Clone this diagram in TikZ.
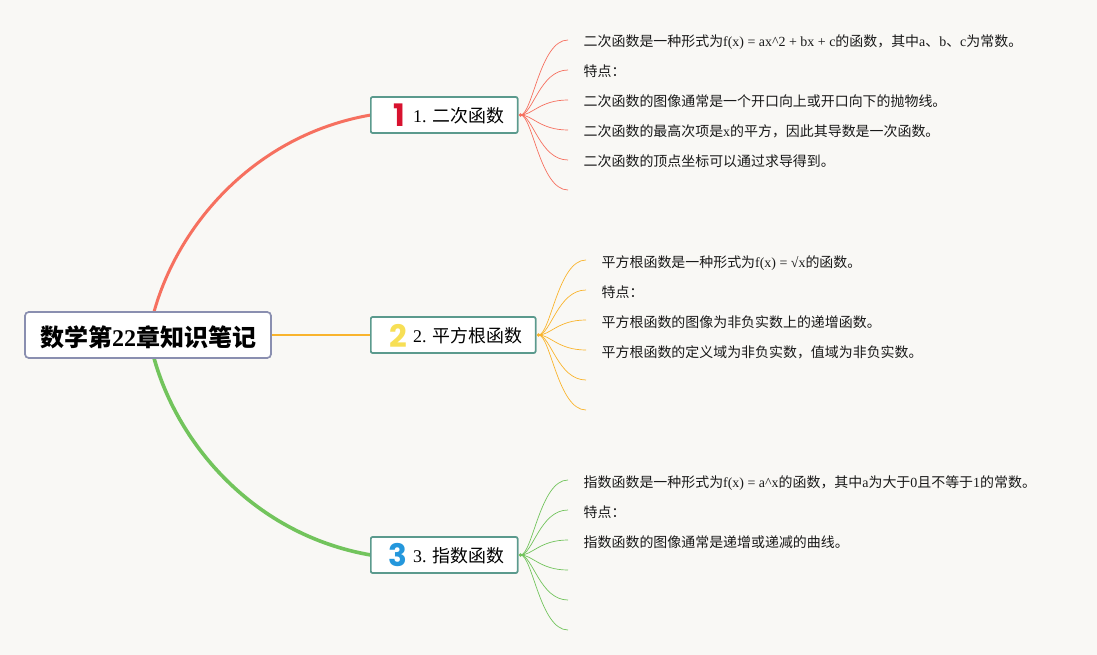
\documentclass[tikz,border=0pt]{standalone}
\usepackage{fontspec}
\setmainfont{Liberation Serif}
\newfontfamily\cjkfont{Noto Sans CJK SC}
\newfontfamily\iconfont{Poppins}
\newcommand{\C}[1]{{\cjkfont #1}}
\definecolor{bgc}{HTML}{F9F8F5}
\definecolor{redl}{HTML}{F6705F}
\definecolor{orgl}{HTML}{F9B42D}
\definecolor{grnl}{HTML}{72C45C}
\definecolor{bord}{HTML}{5B9A8D}
\definecolor{rootb}{HTML}{8A8FB0}
\tikzset{
  rootbox/.style={draw=rootb,fill=white,line width=1.6pt,outer sep=0pt,rounded corners=4pt,minimum width=246pt,minimum height=46pt,inner sep=0pt},
  roottext/.style={inner sep=0pt,font=\fontsize{24}{28}\selectfont},
  branchbox/.style={draw=bord,fill=white,line width=1.6pt,outer sep=0pt,rounded corners=2pt,minimum height=36pt,inner sep=0pt,anchor=west},
  branchtext/.style={anchor=west,inner sep=0pt,font=\fontsize{17.9}{22}\selectfont,text height=14pt,text depth=4pt},
  leaf/.style={anchor=west,inner xsep=15.5pt,inner ysep=0pt,font=\fontsize{13.95}{16}\selectfont,text=black!90,text height=11pt,text depth=3pt},
  icon/.style={font=\iconfont\bfseries\fontsize{31}{31}\selectfont,inner sep=0pt},
  twig/.style={line width=0.7pt},
}
\newcommand{\twig}[3]{\draw[twig,#1] (#2) .. controls ($(#2)+(12,0)$) and ($(#3)+(-28,0)$) .. (#3);}
\usetikzlibrary{calc}
\begin{document}
\begin{tikzpicture}[x=1pt,y=-1pt]
\useasboundingbox (0,0) rectangle (1097,655);
\fill[bgc] (0,0) rectangle (1097,655);
\coordinate (r0) at (148,335);
\node[rootbox] (root) at (r0) {};
\node[branchbox,minimum width=146.8pt] (b1) at (370.8,115) {};
\node[branchbox,minimum width=164.8pt] (b2) at (370.8,335) {};
\node[branchbox,minimum width=146.8pt] (b3) at (370.8,555) {};
\draw[redl,line width=3pt] ([xshift=6pt]root.north) .. controls +(24,-87) and +(-116,20) .. (b1.west);
\draw[orgl,line width=2pt] (root.east) -- (b2.west);
\draw[grnl,line width=3.6pt] ([xshift=6pt]root.south) .. controls +(24,87) and +(-116,-20) .. (b3.west);
% boxes above connector ends
\node[rootbox] at (r0) {};
\node[branchbox,minimum width=146.8pt] at (b1.west) {};
\node[branchbox,minimum width=164.8pt] at (b2.west) {};
\node[branchbox,minimum width=146.8pt] at (b3.west) {};
\node[roottext] (rt) at (148,337) {\bfseries\C{数学第}22\C{章知识笔记}};
\node[icon,text={rgb,255:red,216;green,18;blue,47}] (i1) at (399,115) {1};
\node[icon,text={rgb,255:red,247;green,223;blue,85}] (i2) at (398,336) {2};
\node[icon,text={rgb,255:red,36;green,151;blue,220}] (i3) at (398,555) {3};
\node[branchtext] (t1) at (413,118) {1. \C{二次函数}};
\node[branchtext] (t2) at (413,337.5) {2. \C{平方根函数}};
\node[branchtext] (t3) at (413,557.5) {3. \C{指数函数}};
% hubs
\coordinate (h1) at (520.5,115);
\coordinate (h2) at (538.5,335);
\coordinate (h3) at (520.5,555);
\fill[redl] (h1) circle (1.8pt);
\fill[orgl] (h2) circle (1.8pt);
\fill[grnl] (h3) circle (1.8pt);
% leaf texts
\node[leaf] (a1) at (568,43) {\C{二次函数是一种形式为}f(x) = ax\textasciicircum 2 + bx + c\C{的函数，其中}a\C{、}b\C{、}c\C{为常数。}};
\node[leaf] (a2) at (568,73) {\C{特点：}};
\node[leaf] (a3) at (568,103) {\C{二次函数的图像通常是一个开口向上或开口向下的抛物线。}};
\node[leaf] (a4) at (568,133) {\C{二次函数的最高次项是}x\C{的平方，因此其导数是一次函数。}};
\node[leaf] (a5) at (568,163) {\C{二次函数的顶点坐标可以通过求导得到。}};
\node[leaf] (c1) at (586,263) {\C{平方根函数是一种形式为}f(x) = √x\C{的函数。}};
\node[leaf] (c2) at (586,293) {\C{特点：}};
\node[leaf] (c3) at (586,323) {\C{平方根函数的图像为非负实数上的递增函数。}};
\node[leaf] (c4) at (586,353) {\C{平方根函数的定义域为非负实数，值域为非负实数。}};
\node[leaf] (d1) at (568,483) {\C{指数函数是一种形式为}f(x) = a\textasciicircum x\C{的函数，其中}a\C{为大于}0\C{且不等于}1\C{的常数。}};
\node[leaf] (d2) at (568,513) {\C{特点：}};
\node[leaf] (d3) at (568,543) {\C{指数函数的图像通常是递增或递减的曲线。}};
\coordinate (a6) at (568,190);
\coordinate (c5) at (586,380);
\coordinate (c6) at (586,410);
\coordinate (d4) at (568,570);
\coordinate (d5) at (568,600);
\coordinate (d6) at (568,630);
% twigs
\foreach \n in {a1,a2,a3,a4,a5} {\twig{redl}{h1}{$(\n.west)+(0,-3)$}}
\twig{redl}{h1}{a6}
\foreach \n in {c1,c2,c3,c4} {\twig{orgl}{h2}{$(\n.west)+(0,-3)$}}
\twig{orgl}{h2}{c5}
\twig{orgl}{h2}{c6}
\foreach \n in {d1,d2,d3} {\twig{grnl}{h3}{$(\n.west)+(0,-3)$}}
\twig{grnl}{h3}{d4}
\twig{grnl}{h3}{d5}
\twig{grnl}{h3}{d6}
\end{tikzpicture}
\end{document}
